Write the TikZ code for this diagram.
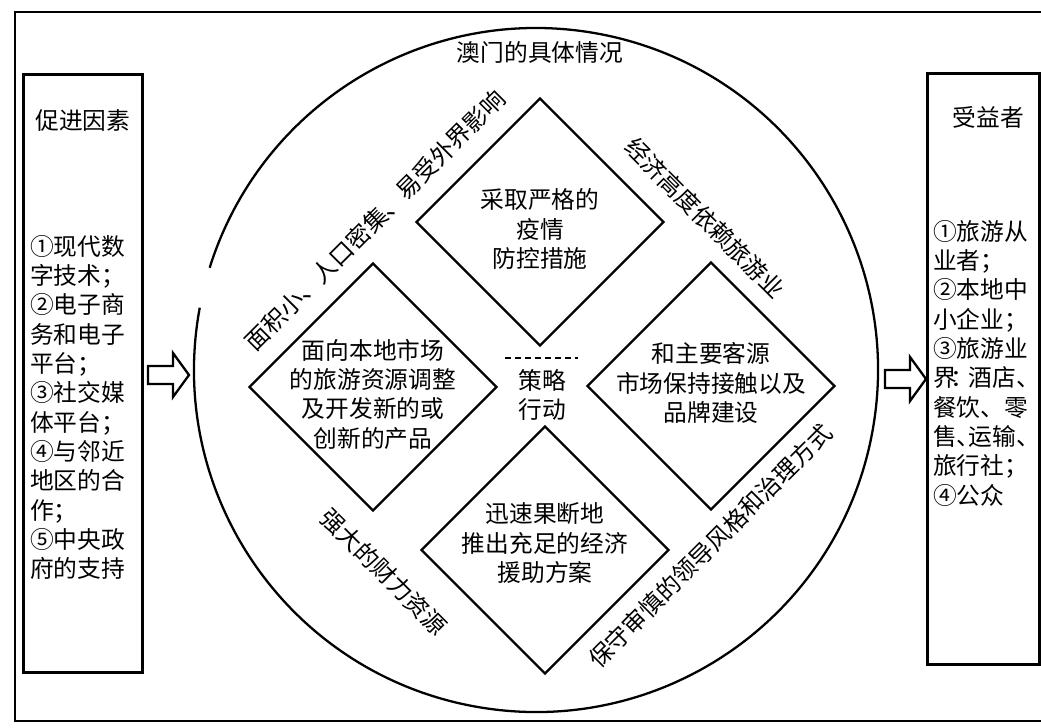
\documentclass[tikz,border=0pt]{standalone}
\usepackage{fontspec}
\setmainfont{Noto Sans CJK SC}
\usetikzlibrary{shapes.geometric,calc}
\def\bigcircle{(536,-370) ++(169.5:342) arc[start angle=169.5, end angle=522.6, radius=342]}
\def\blockarrow{-- ++(-16,22) -- ++(0,-13) -- ++(-25,0) -- ++(0,-18) -- ++(25,0) -- ++(0,-13) -- cycle}
\def\halfdun{\makebox[0.5em][l]{、}}

\begin{document}
\begin{tikzpicture}[x=0.02cm, y=0.02cm, line width=1.3pt,
    font=\fontsize{13.5pt}{16.7pt}\selectfont,
    diam/.style={draw, diamond, aspect=1, minimum size=4.96cm, inner sep=0pt},
    box/.style={draw, line width=1.5pt, inner sep=0pt},
    list/.style={anchor=north west, align=left, inner sep=0pt}]
  \useasboundingbox (0,0) rectangle (1041,-727);

  % Frame
  \draw[line width=1.5pt] (1041,-12) -- (15,-12) -- (15,-721) -- (1041,-721);

  % Left box
  \node[box, anchor=north west, minimum width=2.38cm, minimum height=11.96cm] (factors) at (22,-73) {};
  \node (factortitle) at ($(factors.north)+(0,-47)$) {促进因素};
  \node[list] (factorlist) at (29,-234) {①现代数\\字技术；\\②电子商\\务和电子\\平台；\\③社交媒\\体平台；\\④与邻近\\地区的合\\作；\\⑤中央政\\府的支持};

  % Right box
  \node[box, anchor=north west, minimum width=2.24cm, minimum height=11.82cm] (benefit) at (926,-72) {};
  \node (benefittitle) at ($(benefit.north)+(5,-45)$) {受益者};
  \node[list] (benefitlist) at (932,-219) {①旅游从\\业者；\\②本地中\\小企业；\\③旅游业\\界\makebox[0.5em][c]{：}酒店\halfdun\\餐饮、零\\售\halfdun 运输\halfdun\\旅行社；\\④公众};

  % Circle
  \draw \bigcircle;
  \node (title) at (540,-52) {澳门的具体情况};

  % Diamonds
  \node[diam] (epidemic) at (540,-222) {};
  \node[diam] (localmkt) at (373,-387) {};
  \node[diam] (sourcemkt) at (711,-386) {};
  \node[diam] (aid) at (545,-550) {};

  \node[align=center] (epidemictext) at ($(epidemic)+(0,-7)$) {采取严格的\\疫情\\防控措施};
  \node[align=center] (localmkttext) at ($(localmkt)+(0,-7)$) {面向本地市场\\的旅游资源调整\\及开发新的或\\创新的产品};
  \node[align=center] (sourcemkttext) at ($(sourcemkt)+(0,3)$) {和主要客源\\市场保持接触以及\\品牌建设};
  \node[align=center] (aidtext) at ($(aid)+(0,7)$) {迅速果断地\\推出充足的经济\\援助方案};

  % Strategy
  \node[align=center] (strategy) at (542,-395) {策略\\行动};
  \draw[dash pattern=on 0.12cm off 0.08cm] (505,-358) -- (578,-358);

  % Texts along the circle
  \node[rotate=45] (smallarea) at (375,-220) {面积小、人口密集、易受外界影响};
  \node[rotate=-45] (economy) at (705,-218) {经济高度依赖旅游业};
  \node[rotate=-45] (finance) at (384,-572) {强大的财力资源};
  \node[rotate=45] (leader) at (710,-546) {保守审慎的领导风格和治理方式};

  % Arrows
  \coordinate (lefttip) at (189,-375);
  \coordinate (righttip) at (926,-379);
  \draw (lefttip) \blockarrow;
  \draw (righttip) \blockarrow;
\end{tikzpicture}
\end{document}
